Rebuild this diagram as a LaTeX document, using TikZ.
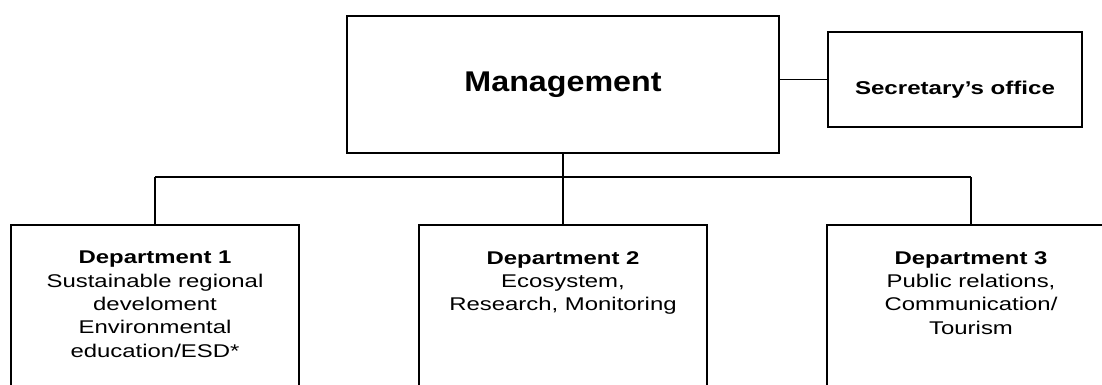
\documentclass[tikz,border=0pt]{standalone}
\usepackage{fontspec}
\setmainfont{Liberation Sans}[FakeStretch=1.3]
\newfontfamily\mgfont{Liberation Sans}[FakeStretch=1.13]
\begin{document}
\begin{tikzpicture}[x=0.75pt,y=-0.75pt,
  box/.style={draw=black, line width=1.2pt, rectangle, inner sep=0pt},
  deptbox/.style={box, minimum width=216pt, minimum height=150pt},
  depttext/.style={anchor=north, inner sep=0pt, align=center, font=\fontsize{13.8}{17.5}\selectfont},
  bus/.style={line width=1.2pt},
  conn/.style={line width=0.8pt}]
\useasboundingbox (0,0) rectangle (1102,385);
\clip (0,0) rectangle (1102,385);
\node[box, minimum width=324pt, minimum height=102.75pt, font=\mgfont\bfseries\fontsize{21.4}{25}\selectfont] (mg) at (563,84.5) {Management};
\node[box, minimum width=190.5pt, minimum height=71.25pt] (sec) at (955,79.5) {};
\node[anchor=base, inner sep=0pt, font=\bfseries\fontsize{13.9}{17}\selectfont] (st) at (955,94) {Secretary’s office};
\node[deptbox] (d1) at (155,325) {};
\node[deptbox] (d2) at (563,325) {};
\node[deptbox] (d3) at (971,325) {};
\node[depttext] (t1) at (155,251) {\textbf{Department 1}\\Sustainable regional\\develoment\\Environmental\\education/ESD*};
\node[depttext] (t2) at (563,251) {\textbf{Department 2}\\Ecosystem,\\Research, Monitoring};
\node[depttext] (t3) at (971,251) {\textbf{Department 3}\\Public relations,\\Communication/\\Tourism};
\coordinate (bus) at (563,177);
\draw[bus] (sec.west) -- (sec.west -| mg.east);
\draw[conn] (mg.south) -- (d2.north);
\draw[conn] (d1.north) -- (d1.north |- bus);
\draw[conn] (d3.north) -- (d3.north |- bus);
\draw[bus] (d1.north |- bus) -- (d3.north |- bus);
\end{tikzpicture}
\end{document}
